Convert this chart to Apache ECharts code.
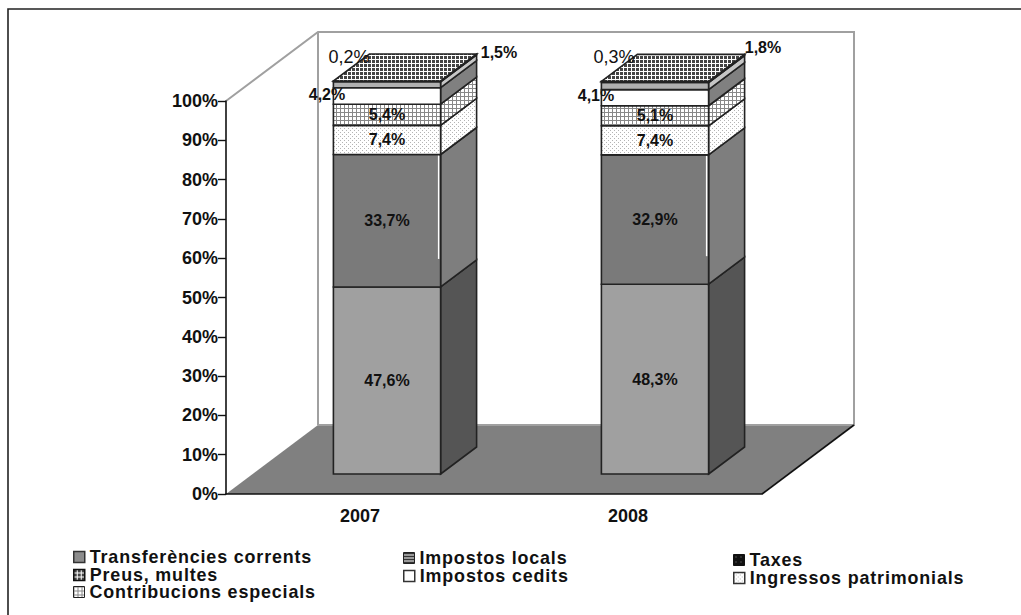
<!DOCTYPE html>
<html>
<head>
<meta charset="utf-8">
<style>
html,body{margin:0;padding:0;background:#fff}
#c{width:1021px;height:615px}
#c text[style*="17.9px"]{letter-spacing:0.85px}
</style>
<script src="https://cdn.jsdelivr.net/npm/echarts@6/dist/echarts.min.js"></script>
</head>
<body>
<div id="c"></div>
<script>
var categories = ['2007', '2008'];
var transferencies = [47.6, 48.3];
var impostosLocals = [33.7, 32.9];
var ingressosPatrimonials = [7.4, 7.4];
var contribucionsEspecials = [5.4, 5.1];
var impostosCedits = [4.2, 4.1];
var taxes = [1.5, 1.8];
var preusMultes = [0.2, 0.3];
var labelsTransferencies = ['47,6%', '48,3%'];
var labelsLocals = ['33,7%', '32,9%'];
var labelsIngressos = ['7,4%', '7,4%'];
var labelsContribucions = ['5,4%', '5,1%'];
var labelsCedits = ['4,2%', '4,1%'];
var labelsTaxes = ['1,5%', '1,8%'];
var labelsPreus = ['0,2%', '0,3%'];

function tile(size, draw) {
  var cv = document.createElement('canvas');
  cv.width = cv.height = size;
  var g = cv.getContext('2d');
  g.fillStyle = '#fff';
  g.fillRect(0, 0, size, size);
  draw(g);
  return {image: cv, repeat: 'repeat'};
}
var dotFill = tile(4, function (g) {
  g.fillStyle = '#b4b4b4';
  g.fillRect(0, 0, 1, 1);
  g.fillRect(2, 2, 1, 1);
});
var gridFill = tile(4, function (g) {
  g.fillStyle = '#888';
  g.fillRect(0, 0, 4, 1);
  g.fillRect(0, 0, 1, 4);
});
var topFill = tile(4, function (g) {
  g.fillStyle = '#444';
  g.fillRect(0, 0, 3, 3);
});
var stripeFill = tile(3, function (g) {
  g.fillStyle = '#333';
  g.fillRect(0, 0, 3, 2);
});
var blackFill = tile(5, function (g) {
  g.fillStyle = '#111';
  g.fillRect(0, 0, 5, 5);
  g.fillStyle = '#888';
  g.fillRect(2, 2, 1, 1);
});

var BAR_SHIFT_X = 27;
var BAR_SHIFT_Y = -20;
var BAR_DX = 36;
var BAR_DY = -27;
var WALL_DX = 92;
var WALL_DY = -69;
var STROKE = '#222';

var segments = [
  {name: 'Transferències corrents', values: transferencies, labels: labelsTransferencies, front: '#a0a0a0', side: '#555555',
    marker: {color: '#8c8c8c', borderColor: '#333', borderWidth: 1.5}},
  {name: 'Impostos locals', values: impostosLocals, labels: labelsLocals, front: '#7a7a7a', side: '#7e7e7e', edge: true,
    marker: {color: stripeFill, borderColor: '#222', borderWidth: 1}},
  {name: 'Ingressos patrimonials', values: ingressosPatrimonials, labels: labelsIngressos, front: dotFill, side: dotFill,
    marker: {color: dotFill, borderColor: '#333', borderWidth: 1.5}},
  {name: 'Contribucions especials', values: contribucionsEspecials, labels: labelsContribucions, front: gridFill, side: gridFill,
    marker: {color: gridFill, borderColor: '#222', borderWidth: 1}},
  {name: 'Impostos cedits', values: impostosCedits, labels: labelsCedits, front: '#ffffff', side: '#808080',
    shift: [[-60, -1], [-59, -2]], marker: {color: '#fff', borderColor: '#333', borderWidth: 1.5}},
  {name: 'Taxes', values: taxes, labels: labelsTaxes, front: '#b0b0b0', side: '#c6c6c6',
    shift: [[112, -32], [108, -39]], marker: {color: blackFill, borderColor: '#111', borderWidth: 1}},
  {name: 'Preus, multes', values: preusMultes, labels: labelsPreus, front: '#666666', side: '#666666', top: topFill, thin: true,
    shift: [[-38, -24], [-41, -25]], marker: {color: topFill, borderColor: '#111', borderWidth: 1.5}}
];

var legendSpots = {
  'Transferències corrents': [73, 548], 'Impostos locals': [403, 549], 'Taxes': [733, 551],
  'Preus, multes': [73, 566], 'Impostos cedits': [403, 567], 'Ingressos patrimonials': [733, 569],
  'Contribucions especials': [73, 583]
};

var running = categories.map(function () { return 0; });

function segmentRender(seg) {
  return function (params, api) {
    var cat = api.value(0);
    var low = api.value(1);
    var high = api.value(2);
    var width = api.size([1, 0])[0] * 0.4;
    var cx = api.coord([cat, 0])[0] + BAR_SHIFT_X;
    var yLow = api.coord([cat, low])[1] + BAR_SHIFT_Y;
    var yHigh = api.coord([cat, high])[1] + BAR_SHIFT_Y;
    var l = cx - width / 2, r = cx + width / 2;
    var lineStyle = {stroke: STROKE, lineWidth: 1.6, lineJoin: 'miter'};
    function poly(pts, fill) {
      return {type: 'polygon', shape: {points: pts}, style: Object.assign({fill: fill}, lineStyle)};
    }
    var children = [
      poly([[r, yLow], [r + BAR_DX, yLow + BAR_DY], [r + BAR_DX, yHigh + BAR_DY], [r, yHigh]], seg.side),
      poly([[l, yLow], [r, yLow], [r, yHigh], [l, yHigh]], seg.front)
    ];
    if (seg.top) {
      children.push(poly([[l, yHigh], [r, yHigh], [r + BAR_DX, yHigh + BAR_DY], [l + BAR_DX, yHigh + BAR_DY]], seg.top));
    }
    if (seg.edge) {
      children.push({type: 'line', shape: {x1: r - 2, y1: yHigh + 1, x2: r - 2, y2: yLow - 28},
        style: {stroke: '#fff', lineWidth: 1.4}});
    }
    var sh = seg.shift ? seg.shift[params.dataIndex] : [0, 0];
    children.push({
      type: 'text', z2: 100,
      style: {
        x: cx + sh[0], y: (yLow + yHigh) / 2 + sh[1],
        text: seg.labels[params.dataIndex],
        fill: '#111', align: 'center', verticalAlign: 'middle',
        font: (seg.thin ? 'normal 18px ' : 'bold 16px ') + '"Liberation Sans", Arial, sans-serif'
      }
    });
    return {type: 'group', children: children};
  };
}

function roomRender(params, api) {
  var b = params.coordSys;
  var x0 = api.coord([0, 0])[0] - api.size([1, 0])[0] / 2;
  var x1 = x0 + b.width;
  var y0 = api.coord([0, 0])[1];
  var y1 = api.coord([0, 100])[1];
  var wall = {stroke: '#a0a0a0', lineWidth: 2};
  var dark = {stroke: '#111', lineWidth: 1.6};
  return {type: 'group', children: [
    {type: 'polygon', shape: {points: [[x0, y0], [x1, y0], [x1 + WALL_DX, y0 + WALL_DY], [x0 + WALL_DX, y0 + WALL_DY]]},
      style: {fill: '#808080'}},
    {type: 'polyline', shape: {points: [[x0, y1], [x0 + WALL_DX, y1 + WALL_DY], [x1 + WALL_DX, y1 + WALL_DY], [x1 + WALL_DX, y0 + WALL_DY], [x0 + WALL_DX, y0 + WALL_DY]]},
      style: Object.assign({fill: null}, wall)},
    {type: 'line', shape: {x1: x0 + WALL_DX, y1: y1 + WALL_DY, x2: x0 + WALL_DX, y2: y0 + WALL_DY}, style: wall},
    {type: 'line', shape: {x1: x1, y1: y0, x2: x1 + WALL_DX, y2: y0 + WALL_DY}, style: dark}
  ]};
}

var series = [{
  type: 'custom', name: 'room', silent: true, z: 1,
  renderItem: roomRender, data: [[0, 0]], encode: {x: 0, y: 1}
}];
segments.forEach(function (seg, i) {
  var data = categories.map(function (c, k) {
    var low = running[k];
    running[k] = low + seg.values[k];
    return [k, low, running[k]];
  });
  series.push({
    type: 'custom', name: seg.name, z: 2 + i, silent: true,
    itemStyle: seg.marker,
    renderItem: segmentRender(seg),
    encode: {x: 0, y: [1, 2]},
    data: data
  });
});

var legends = segments.map(function (seg) {
  var spot = legendSpots[seg.name];
  return {
    left: spot[0], top: spot[1], padding: 0, itemWidth: 11, itemHeight: 11, selectedMode: false,
    icon: 'rect',
    textStyle: {fontFamily: '"Liberation Sans", Arial, sans-serif', fontWeight: 'bold', fontSize: 17.9, lineHeight: 16, color: '#111'},
    data: [{name: seg.name, itemStyle: seg.marker}]
  };
});

var chart = echarts.init(document.getElementById('c'), null, {renderer: 'svg'});
chart.setOption({
  animation: false,
  backgroundColor: '#fff',
  legend: legends,
  grid: {left: 226, right: 259, top: 101, bottom: 121},
  graphic: [{
    type: 'polyline', silent: true,
    shape: {points: [[8, 615], [8, 9], [1021, 9]]},
    style: {stroke: '#222', lineWidth: 1.6, fill: null}
  }],
  xAxis: {
    type: 'category', data: categories, z: 10,
    axisLine: {lineStyle: {color: '#111', width: 1.6}},
    axisTick: {length: 8, lineStyle: {color: '#111', width: 1.4}},
    axisLabel: {color: '#111', fontFamily: '"Liberation Sans", Arial, sans-serif', fontWeight: 'bold', fontSize: 18, margin: 13}
  },
  yAxis: {
    type: 'value', min: 0, max: 100, interval: 10, z: 10,
    splitLine: {show: false},
    axisLine: {show: true, lineStyle: {color: '#111', width: 1.6}},
    axisTick: {show: true, length: 8, lineStyle: {color: '#111', width: 1.4}},
    axisLabel: {color: '#111', fontFamily: '"Liberation Sans", Arial, sans-serif', fontWeight: 'bold', fontSize: 18, margin: 8, formatter: '{value}%'}
  },
  series: series
});
</script>
</body>
</html>
